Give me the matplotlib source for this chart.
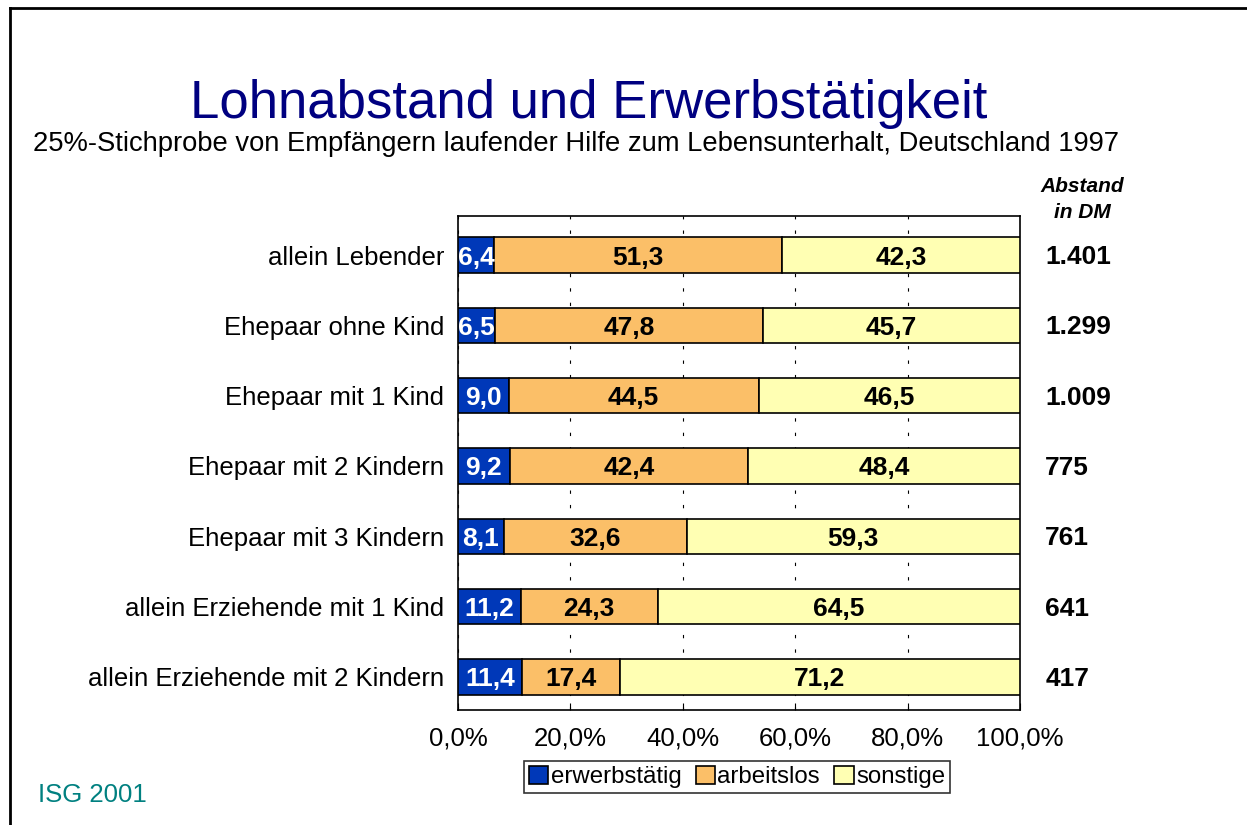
import numpy as np
from matplotlib import pyplot as plt
from matplotlib.ticker import FuncFormatter
from matplotlib.lines import Line2D

categories = ['allein Lebender', 'Ehepaar ohne Kind', 'Ehepaar mit 1 Kind',
              'Ehepaar mit 2 Kindern', 'Ehepaar mit 3 Kindern',
              'allein Erziehende mit 1 Kind', 'allein Erziehende mit 2 Kindern']
erwerbstaetig = [6.4, 6.5, 9.0, 9.2, 8.1, 11.2, 11.4]
arbeitslos = [51.3, 47.8, 44.5, 42.4, 32.6, 24.3, 17.4]
sonstige = [42.3, 45.7, 46.5, 48.4, 59.3, 64.5, 71.2]
abstand = ['1.401', '1.299', '1.009', '775', '761', '641', '417']
series_names = ['erwerbstätig', 'arbeitslos', 'sonstige']
colors = ['#0038B8', '#FBBF68', '#FFFFB3']
text_colors = ['white', 'black', 'black']

plt.rcParams['font.family'] = ['Liberation Sans', 'DejaVu Sans']

fig = plt.figure(figsize=(12.47, 8.25), dpi=100)
ax = fig.add_axes([458/1247, 1-710/825, 562/1247, 494/825])

y = np.arange(len(categories))
left = np.zeros(len(categories))
for vals, name, col, tc in zip([erwerbstaetig, arbeitslos, sonstige], series_names, colors, text_colors):
    vals = np.array(vals)
    bars = ax.barh(y, vals, left=left, height=0.5, color=col, edgecolor='black',
                   linewidth=1.2, label=name, zorder=3)
    for b, v in zip(bars, vals):
        ax.text(b.get_x() + b.get_width()/2, b.get_y() + b.get_height()/2,
                f'{v:.1f}'.replace('.', ','), ha='center', va='center_baseline',
                color=tc, fontsize=19, fontweight='bold', zorder=4)
    left = left + vals

ax.set_xlim(0, 100)
ax.set_ylim(6.47, -0.555)
ax.set_yticks(y)
ax.set_yticklabels(categories, fontsize=18.5)
ax.tick_params(axis='y', length=0, pad=10)
ax.set_xticks(np.arange(0, 101, 20))
ax.xaxis.set_major_formatter(FuncFormatter(lambda v, p: f'{v:.1f}%'.replace('.', ',')))
ax.tick_params(axis='x', direction='in', length=5, labelsize=18.5, pad=12)
ax.grid(axis='x', color='black', linewidth=0.8, linestyle=(0, (3, 10)), zorder=0)
for s in ax.spines.values():
    s.set_linewidth(1.2)

for yi, a in zip(y, abstand):
    ax.text(1.045, yi + 0.03, a, transform=ax.get_yaxis_transform(), ha='left', va='center',
            fontsize=19, fontweight='bold')
ax.text(1082/1247, 1-187/825, 'Abstand', transform=fig.transFigure, ha='center', va='center',
        fontsize=15, fontweight='bold', fontstyle='italic')
ax.text(1082/1247, 1-212/825, 'in DM', transform=fig.transFigure, ha='center', va='center',
        fontsize=15, fontweight='bold', fontstyle='italic')

fig.text(589/1247, 1-104/825, 'Lohnabstand und Erwerbstätigkeit', ha='center', va='center',
         fontsize=38, color='#000080')
fig.text(576/1247, 1-144/825,
         '25%-Stichprobe von Empfängern laufender Hilfe zum Lebensunterhalt, Deutschland 1997',
         ha='center', va='center', fontsize=19.7)
fig.text(38/1247, 1-795/825, 'ISG 2001', ha='left', va='center', fontsize=18.5, color='#008080')

leg = fig.legend(loc='center', bbox_to_anchor=(737/1247, 1-777/825), ncol=3, fontsize=17.3,
                 handlelength=0.8, handleheight=0.8, handletextpad=0.1, columnspacing=0.6,
                 frameon=True, fancybox=False, edgecolor='black', borderpad=0.2,
                 borderaxespad=0)
leg.get_frame().set_linewidth(1.2)

fig.add_artist(Line2D([10/1247, 1], [1-8/825, 1-8/825], color='black', linewidth=2,
                      transform=fig.transFigure))
fig.add_artist(Line2D([10/1247, 10/1247], [1-8/825, 0], color='black', linewidth=2,
                      transform=fig.transFigure))

fig.savefig('out.png', dpi=100)
